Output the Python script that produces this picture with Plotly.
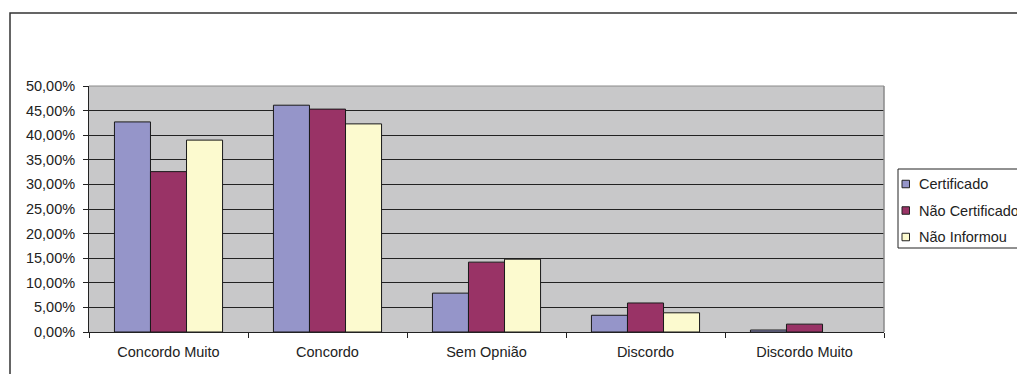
import plotly.graph_objects as go

# Response categories and share of answers per group
categories = ["Concordo Muito", "Concordo", "Sem Opnião", "Discordo", "Discordo Muito"]
certificado = [0.427, 0.461, 0.079, 0.034, 0.004]
nao_certificado = [0.326, 0.453, 0.142, 0.059, 0.016]
nao_informou = [0.390, 0.423, 0.148, 0.039, 0.0]

series_names = ["Certificado", "Não Certificado", "Não Informou"]
series_values = [certificado, nao_certificado, nao_informou]
series_colors = ["#9595C9", "#993366", "#FCFACF"]

y_ticks = [i * 0.05 for i in range(11)]

W, H = 1017, 374
PX0, PX1, PY0, PY1 = 89, 884, 86, 332  # plot area in pixels (left, right, top, bottom)
L, R, T, B = PX0, W - PX1, PY0, H - PY1


def px(x):
    return (x - PX0) / (PX1 - PX0)


def py(y):
    return (PY1 - y) / (PY1 - PY0)


FAMILY = "Liberation Sans, Arial, sans-serif"
font = dict(family=FAMILY, size=14.5, color="#222222")

fig = go.Figure()
for name, vals, col in zip(series_names, series_values, series_colors):
    fig.add_trace(go.Bar(
        x=categories, y=vals, name=name,
        marker=dict(color=col,
                    line=dict(color="#1a1a1a", width=[1 if v > 0 else 0 for v in vals])),
        showlegend=False,
    ))

shapes = [
    # outer chart frame
    dict(type="rect", xref="paper", yref="paper",
         x0=px(10), x1=px(W + 5), y0=py(H + 5), y1=py(13),
         line=dict(color="#333333", width=1.5), fillcolor="rgba(0,0,0,0)", layer="below"),
    # plot area border (top and right)
    dict(type="line", xref="paper", yref="paper", x0=0, x1=1, y0=1, y1=1,
         line=dict(color="#8a8a8a", width=1)),
    dict(type="line", xref="paper", yref="paper", x0=1, x1=1, y0=0, y1=1,
         line=dict(color="#8a8a8a", width=1.5)),
    # legend box
    dict(type="rect", xref="paper", yref="paper",
         x0=px(898), x1=px(W + 20), y0=py(248), y1=py(169),
         line=dict(color="#222222", width=1), fillcolor="white"),
]
annotations = []

# legend entries: colour key + series name
key_y = [184, 210.5, 237]
for name, col, yc in zip(series_names, series_colors, key_y):
    shapes.append(dict(type="rect", xref="paper", yref="paper",
                       x0=px(902), x1=px(909.5), y0=py(yc + 3.75), y1=py(yc - 3.75),
                       line=dict(color="#222222", width=1), fillcolor=col))
    annotations.append(dict(xref="paper", yref="paper", x=px(917), y=py(yc),
                            xanchor="left", yanchor="middle", showarrow=False,
                            text=name, font=font))

fig.update_layout(
    width=W, height=H,
    margin=dict(l=L, r=R, t=T, b=B, autoexpand=False),
    paper_bgcolor="white",
    plot_bgcolor="#C8C8C9",
    barmode="group",
    bargap=0.32,
    bargroupgap=0,
    separators=",.",
    font=font,
    showlegend=False,
    xaxis=dict(
        showgrid=False, zeroline=False,
        showline=True, linecolor="#222222", linewidth=1,
        ticks="outside", ticklen=5, tickcolor="#222222",
        tickson="boundaries", ticklabelstandoff=7,
        tickfont=font,
    ),
    yaxis=dict(
        range=[0, 0.5], tickvals=y_ticks, tickformat=".2%",
        showgrid=True, gridcolor="#222222", gridwidth=1,
        zeroline=False,
        showline=True, linecolor="#222222", linewidth=1,
        ticks="outside", ticklen=5, tickcolor="#222222",
        ticklabelstandoff=5,
        tickfont=font,
    ),
    shapes=shapes,
    annotations=annotations,
)

fig.write_html("out.html")
